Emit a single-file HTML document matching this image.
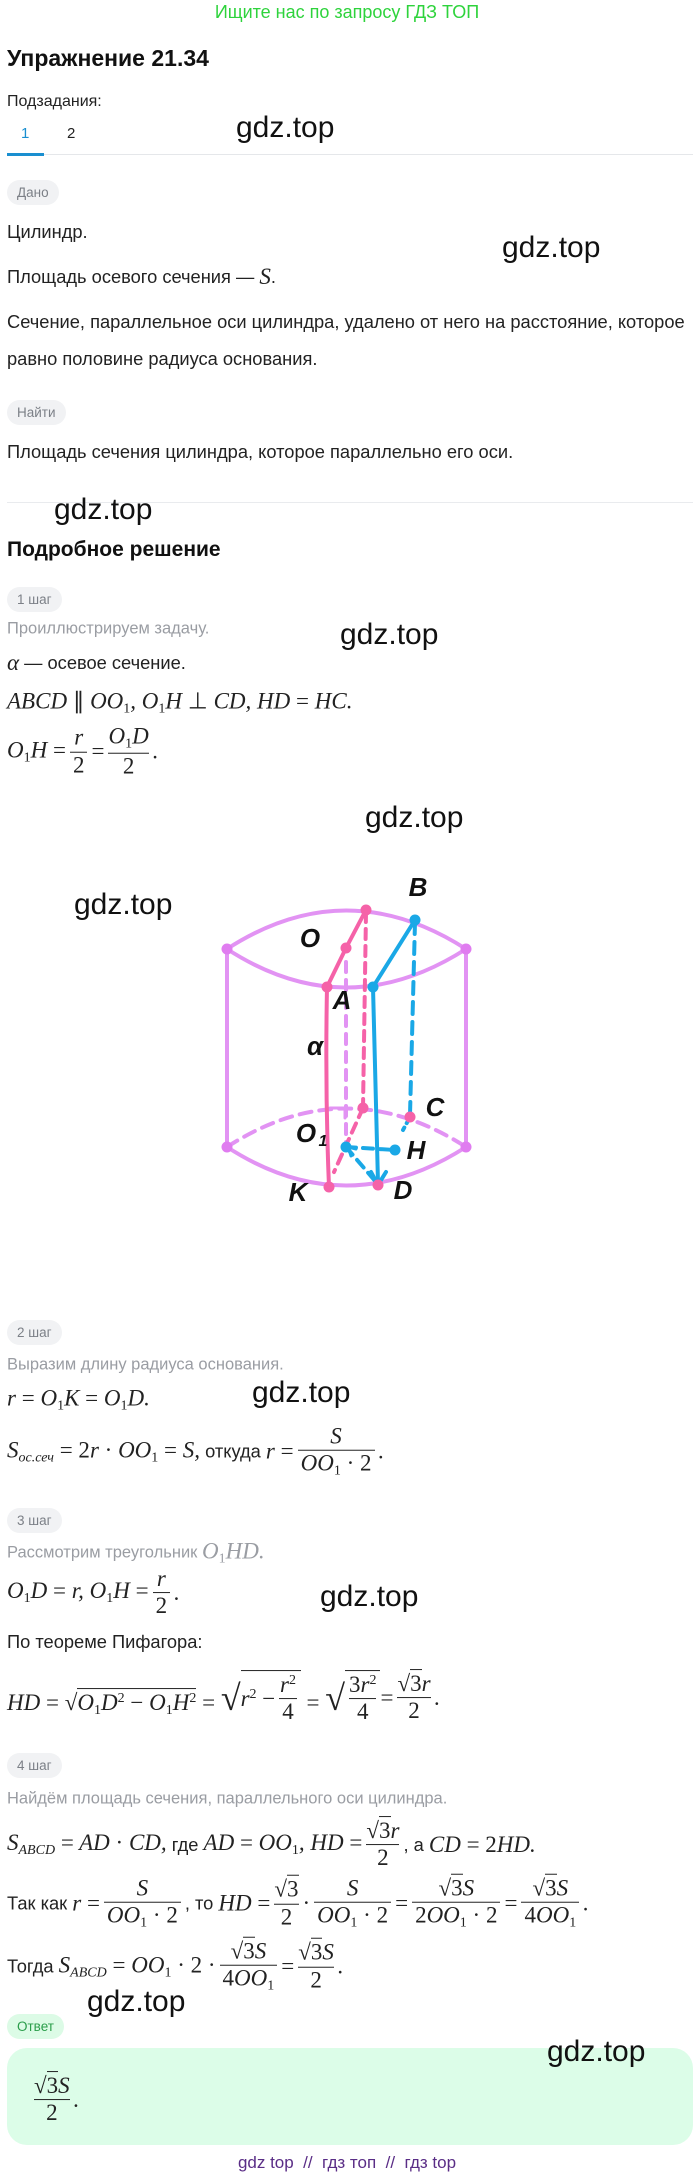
<!DOCTYPE html>
<html><head><meta charset="utf-8">
<style>
*{margin:0;padding:0;box-sizing:border-box}
body{width:694px;height:2179px;background:#fff;position:relative;font-family:"Liberation Sans","Noto Sans CJK SC",sans-serif;color:#222;overflow:hidden}
.a{position:absolute;white-space:nowrap}
.ln{position:absolute;left:7px;white-space:nowrap;display:flex;align-items:center;transform:translateY(-50%);font-size:18.3px}
.g{color:#9a9da3;font-size:16.5px}
.badge{position:absolute;left:7px;height:25px;border-radius:13px;background:#f1f2f4;color:#7c8087;font-size:13.5px;display:flex;align-items:center;padding:0 10px}
.wm{position:absolute;font-size:30px;color:#111;white-space:nowrap;transform:translateY(-50%)}
.m{font-family:"Liberation Serif",serif;font-style:italic;font-size:23px}
.u{font-style:normal}
.fr{display:inline-flex;flex-direction:column;align-items:center;margin:0 4px;font-family:"Liberation Serif",serif;font-size:23px;line-height:1.15}
.fr>span:last-child{border-top:1.3px solid #222;padding:0 3px;width:100%;text-align:center}
.sq{border-top:1.3px solid #222;padding-top:1px}
sub{font-size:14px;font-style:normal;vertical-align:-4px}
sup{font-size:14px;font-style:normal;vertical-align:8px}
</style></head><body>

<div class="a" style="left:0;width:694px;top:2px;text-align:center;color:#2ed33c;font-size:18px">Ищите нас по запросу ГДЗ ТОП</div>
<div class="a" style="left:7px;top:45px;font-size:23px;font-weight:bold;color:#111">Упражнение 21.34</div>
<div class="a" style="left:7px;top:93px;font-size:16px">Подзадания:</div>
<div class="a" style="left:21px;top:125px;font-size:15px;color:#1a8fd0">1</div>
<div class="a" style="left:67px;top:125px;font-size:15px">2</div>
<div class="a" style="left:7px;top:154px;width:686px;height:1px;background:#e5e7ea"></div>
<div class="a" style="left:7px;top:153px;width:37px;height:3px;background:#1a8fd0"></div>
<div class="wm" style="left:236px;top:128px">gdz.top</div>

<div class="badge" style="top:180px">Дано</div>
<div class="ln" style="top:232px">Цилиндр.</div>
<div class="wm" style="left:502px;top:248px">gdz.top</div>
<div class="ln" style="top:277px">Площадь осевого сечения —&nbsp;<span class="m">S</span>.</div>
<div class="ln" style="top:322px">Сечение, параллельное оси цилиндра, удалено от него на расстояние, которое</div>
<div class="ln" style="top:359px">равно половине радиуса основания.</div>
<div class="badge" style="top:400px">Найти</div>
<div class="ln" style="top:452px">Площадь сечения цилиндра, которое параллельно его оси.</div>
<div class="a" style="left:7px;top:502px;width:686px;height:1px;background:#e9ebee"></div>
<div class="wm" style="left:54px;top:510px">gdz.top</div>

<div class="a" style="left:7px;top:538px;font-size:21px;font-weight:bold;color:#111">Подробное решение</div>
<div class="badge" style="top:587px">1 шаг</div>
<div class="ln g" style="top:629px">Проиллюстрируем задачу.</div>
<div class="wm" style="left:340px;top:635px">gdz.top</div>
<div class="ln" style="top:663px"><span class="m">α</span>&nbsp;— осевое сечение.</div>
<div class="ln" style="top:703px"><span class="m">ABCD <span class="u">∥</span> OO<sub>1</sub>, O<sub>1</sub>H <span class="u">⊥</span> CD, HD <span class="u">=</span> HC.</span></div>
<div class="ln" style="top:752px"><span class="m">O<sub>1</sub>H <span class="u">=</span></span><span class="fr"><span class="m">r</span><span class="u">2</span></span><span class="m u">=</span><span class="fr"><span class="m">O<sub>1</sub>D</span><span class="u">2</span></span><span class="m">.</span></div>
<div class="wm" style="left:365px;top:818px">gdz.top</div>
<div class="wm" style="left:74px;top:905px">gdz.top</div>

<svg class="a" style="left:0;top:0" width="694" height="1300" viewBox="0 0 694 1300">
<g fill="none" stroke-linecap="round">
<path d="M227 949 Q346 872 466 949" stroke="#e293f3" stroke-width="4"/>
<path d="M227 949 Q346 1026 466 949" stroke="#e293f3" stroke-width="4"/>
<line x1="227" y1="949" x2="227" y2="1147" stroke="#e293f3" stroke-width="4"/>
<line x1="466" y1="949" x2="466" y2="1147" stroke="#e293f3" stroke-width="4"/>
<path d="M227 1147 Q346 1070 466 1147" stroke="#e293f3" stroke-width="4" stroke-dasharray="12 8"/>
<path d="M227 1147 Q346 1224 466 1147" stroke="#e293f3" stroke-width="4"/>
<line x1="346" y1="962" x2="346" y2="1145" stroke="#e293f3" stroke-width="4" stroke-dasharray="10 8"/>
<polyline points="330,1108 345,1108 345,1118" stroke="#e293f3" stroke-width="3"/>
<path d="M329 1187 Q325 1090 327 987 L346 948 L366 910" stroke="#f562a8" stroke-width="4"/>
<line x1="366" y1="912" x2="363" y2="1108" stroke="#f562a8" stroke-width="4" stroke-dasharray="10 7"/>
<line x1="363" y1="1108" x2="334" y2="1172" stroke="#f562a8" stroke-width="4" stroke-dasharray="10 7"/>
<line x1="415" y1="920" x2="373" y2="987" stroke="#1aa8e6" stroke-width="4"/>
<line x1="373" y1="987" x2="378" y2="1183" stroke="#1aa8e6" stroke-width="4"/>
<polyline points="371,1172 378,1185 386,1172" stroke="#1aa8e6" stroke-width="4"/>
<line x1="415" y1="922" x2="410" y2="1115" stroke="#1aa8e6" stroke-width="4" stroke-dasharray="12 8"/>
<line x1="410" y1="1117" x2="403" y2="1130" stroke="#1aa8e6" stroke-width="4" stroke-dasharray="7 5"/>
<line x1="346" y1="1147" x2="395" y2="1150" stroke="#1aa8e6" stroke-width="4" stroke-dasharray="10 7"/>
<line x1="346" y1="1147" x2="376" y2="1182" stroke="#1aa8e6" stroke-width="4" stroke-dasharray="10 7"/>
<polyline points="356,1149 348,1147 351,1156" stroke="#1aa8e6" stroke-width="3"/>
</g>
<g fill="#e07cf0"><circle cx="227" cy="949" r="5.5"/><circle cx="466" cy="949" r="5.5"/><circle cx="227" cy="1147" r="5.5"/><circle cx="466" cy="1147" r="5.5"/></g>
<g fill="#f562a8"><circle cx="366" cy="910" r="5.5"/><circle cx="346" cy="948" r="5.5"/><circle cx="327" cy="987" r="5.5"/><circle cx="363" cy="1108" r="5.5"/><circle cx="410" cy="1117" r="5.5"/><circle cx="329" cy="1187" r="5.5"/><circle cx="378" cy="1185" r="5.5"/></g>
<g fill="#1aa8e6"><circle cx="415" cy="920" r="5.5"/><circle cx="373" cy="987" r="5.5"/><circle cx="346" cy="1147" r="5.5"/><circle cx="395" cy="1150" r="5.5"/></g>
<g font-family="Liberation Sans, sans-serif" font-style="italic" font-weight="bold" font-size="26" fill="#111" text-anchor="middle">
<text x="418" y="896">B</text><text x="310" y="947">O</text><text x="342" y="1009">A</text>
<text x="315" y="1055">α</text>
<text x="435" y="1116">C</text><text x="306" y="1142">O</text><text x="323" y="1146" font-size="16">1</text>
<text x="416" y="1159">H</text><text x="298" y="1201">K</text><text x="403" y="1199">D</text>
</g>
</svg>

<div class="badge" style="top:1320px">2 шаг</div>
<div class="ln g" style="top:1365px">Выразим длину радиуса основания.</div>
<div class="ln" style="top:1400px"><span class="m">r <span class="u">=</span> O<sub>1</sub>K <span class="u">=</span> O<sub>1</sub>D.</span></div>
<div class="wm" style="left:252px;top:1393px">gdz.top</div>
<div class="ln" style="top:1452px"><span class="m">S<sub style="font-style:italic">ос.сеч</sub> <span class="u">= 2</span>r <span class="u">·</span> OO<sub>1</sub> <span class="u">=</span> S,</span>&nbsp;откуда&nbsp;<span class="m">r <span class="u">=</span></span><span class="fr"><span class="m">S</span><span class="m">OO<sub>1</sub> <span class="u">· 2</span></span></span><span class="m">.</span></div>

<div class="badge" style="top:1508px">3 шаг</div>
<div class="ln g" style="top:1553px">Рассмотрим треугольник&nbsp;<span class="m" style="color:#9a9da3">O<sub>1</sub>HD.</span></div>
<div class="ln" style="top:1593px"><span class="m">O<sub>1</sub>D <span class="u">=</span> r, O<sub>1</sub>H <span class="u">=</span></span><span class="fr"><span class="m">r</span><span class="u">2</span></span><span class="m">.</span></div>
<div class="wm" style="left:320px;top:1597px">gdz.top</div>
<div class="ln" style="top:1642px">По теореме Пифагора:</div>
<div class="ln" style="top:1698px"><span class="m">HD <span class="u">= √</span><span class="sq">O<sub>1</sub>D<sup>2</sup> <span class="u">−</span> O<sub>1</sub>H<sup>2</sup></span> <span class="u">=</span> <span class="u" style="font-size:36px">√</span></span><span class="sq" style="display:inline-flex;align-items:center"><span class="m">r<sup>2</sup> <span class="u">−</span></span><span class="fr"><span class="m">r<sup>2</sup></span><span class="u">4</span></span></span><span class="m u">&nbsp;= <span style="font-size:36px">√</span></span><span class="sq"><span class="fr"><span class="m"><span class="u">3</span>r<sup>2</sup></span><span class="u">4</span></span></span><span class="m u">=</span><span class="fr"><span class="m"><span class="u">√</span><span class="sq"><span class="u">3</span></span>r</span><span class="u">2</span></span><span class="m">.</span></div>

<div class="badge" style="top:1753px">4 шаг</div>
<div class="ln g" style="top:1799px">Найдём площадь сечения, параллельного оси цилиндра.</div>
<div class="ln" style="top:1845px"><span class="m">S<sub style="font-style:italic">ABCD</sub> <span class="u">=</span> AD <span class="u">·</span> CD,</span>&nbsp;где&nbsp;<span class="m">AD <span class="u">=</span> OO<sub>1</sub>, HD <span class="u">=</span></span><span class="fr"><span class="m"><span class="u">√</span><span class="sq"><span class="u">3</span></span>r</span><span class="u">2</span></span>, а&nbsp;<span class="m">CD <span class="u">= 2</span>HD.</span></div>
<div class="ln" style="top:1904px">Так как&nbsp;<span class="m">r <span class="u">=</span></span><span class="fr"><span class="m">S</span><span class="m">OO<sub>1</sub> <span class="u">· 2</span></span></span>, то&nbsp;<span class="m">HD <span class="u">=</span></span><span class="fr"><span class="u"><span>√</span><span class="sq">3</span></span><span class="u">2</span></span><span class="m u">·</span><span class="fr"><span class="m">S</span><span class="m">OO<sub>1</sub> <span class="u">· 2</span></span></span><span class="m u">=</span><span class="fr"><span class="m"><span class="u">√</span><span class="sq"><span class="u">3</span></span>S</span><span class="m"><span class="u">2</span>OO<sub>1</sub> <span class="u">· 2</span></span></span><span class="m u">=</span><span class="fr"><span class="m"><span class="u">√</span><span class="sq"><span class="u">3</span></span>S</span><span class="m"><span class="u">4</span>OO<sub>1</sub></span></span><span class="m">.</span></div>
<div class="ln" style="top:1967px">Тогда&nbsp;<span class="m">S<sub style="font-style:italic">ABCD</sub> <span class="u">=</span> OO<sub>1</sub> <span class="u">· 2 ·</span></span><span class="fr"><span class="m"><span class="u">√</span><span class="sq"><span class="u">3</span></span>S</span><span class="m"><span class="u">4</span>OO<sub>1</sub></span></span><span class="m u">=</span><span class="fr"><span class="m"><span class="u">√</span><span class="sq"><span class="u">3</span></span>S</span><span class="u">2</span></span><span class="m">.</span></div>
<div class="wm" style="left:87px;top:2002px">gdz.top</div>

<div class="badge" style="top:2014px;background:#dcfbe6;color:#2a9d4a">Ответ</div>
<div class="a" style="left:7px;top:2048px;width:686px;height:97px;border-radius:20px;background:#dcfde8"></div>
<div class="ln" style="top:2100px;left:30px"><span class="fr"><span class="m"><span class="u">√</span><span class="sq"><span class="u">3</span></span>S</span><span class="u">2</span></span><span class="m">.</span></div>
<div class="wm" style="left:547px;top:2052px">gdz.top</div>
<div class="a" style="left:0;width:694px;top:2153px;text-align:center;color:#5a2d86;font-size:17px">gdz top &nbsp;// &nbsp;гдз топ &nbsp;// &nbsp;гдз top</div>
</body></html>
